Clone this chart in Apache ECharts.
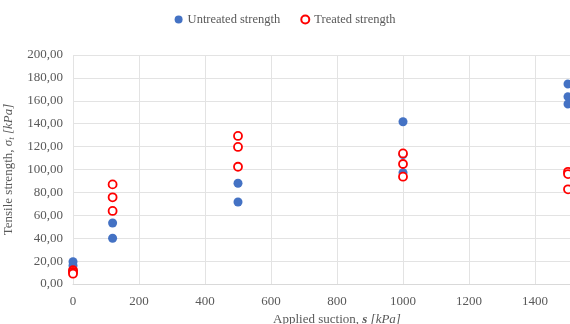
<!DOCTYPE html>
<html><head><meta charset="utf-8">
<script src="https://cdn.jsdelivr.net/npm/echarts@6/dist/echarts.min.js"></script>
<style>html,body{margin:0;padding:0;background:#fff}#c{width:570px;height:324px}</style>
</head><body><div id="c"></div>
<script>
const untreatedX = [0, 0, 0, 120, 120, 500, 500, 1000, 1000, 1000, 1500, 1500, 1500];
const untreatedY = [19.5, 16, 12, 53.3, 40, 88, 71.6, 141.7, 113, 97.2, 174.7, 163.6, 157.2];
const treatedX = [0, 0, 0, 120, 120, 120, 500, 500, 500, 1000, 1000, 1000, 1500, 1500, 1500];
const treatedY = [12, 10.5, 9, 87, 75.7, 63.8, 129.3, 119.7, 102.4, 114, 104.8, 93.7, 98, 96, 82.7];
const seriesNames = ['Untreated strength', 'Treated strength'];

const font = 'Liberation Serif';
const gray = '#595959';
const pair = (xs, ys) => xs.map((x, i) => [x, ys[i]]);

const chart = echarts.init(document.getElementById('c'));
chart.setOption({
  animation: false,
  textStyle: { fontFamily: font },
  legend: {
    top: 8, left: 'center', itemGap: 20, itemWidth: 8, itemHeight: 8,
    textStyle: { color: gray, fontFamily: font, fontSize: 12.5 },
    data: [{ name: seriesNames[0], icon: 'circle' }, { name: seriesNames[1], icon: 'circle' }]
  },
  grid: { left: 73, right: -31, top: 55, bottom: 40, containLabel: false, outerBoundsMode: 'none' },
  xAxis: {
    type: 'value', min: 0, max: 1600, interval: 200,
    axisLine: { show: true, lineStyle: { color: '#d9d9d9' } },
    axisTick: { show: false },
    splitLine: { show: true, lineStyle: { color: '#e3e3e3' } },
    axisLabel: { color: gray, fontFamily: font, fontSize: 13, margin: 11,
      formatter: v => String(v) },
    name: '{n|Applied suction, }{b|s}{i| [kPa]}',
    nameLocation: 'middle', nameGap: 24,
    nameTextStyle: {
      rich: {
        n: { color: gray, fontFamily: font, fontSize: 13 },
        b: { color: gray, fontFamily: font, fontSize: 13, fontWeight: 'bold', fontStyle: 'italic' },
        i: { color: gray, fontFamily: font, fontSize: 13, fontStyle: 'italic' }
      }
    }
  },
  yAxis: {
    type: 'value', min: 0, max: 200, interval: 20,
    axisLine: { show: false },
    axisTick: { show: false },
    splitLine: { show: true, lineStyle: { color: '#e3e3e3' } },
    axisLabel: { color: gray, fontFamily: font, fontSize: 13, margin: 10,
      formatter: v => v.toFixed(2).replace('.', ',') },
    name: '{n|Tensile strength, }{i|σ}{s|t}{i| [kPa]}',
    nameLocation: 'middle', nameGap: 52, nameRotate: 90,
    nameTextStyle: {
      rich: {
        n: { color: gray, fontFamily: font, fontSize: 13 },
        i: { color: gray, fontFamily: font, fontSize: 13, fontStyle: 'italic' },
        s: { color: gray, fontFamily: font, fontSize: 9, fontStyle: 'italic', padding: [6, 0, 0, 0] }
      }
    }
  },
  series: [
    {
      name: seriesNames[0], type: 'scatter', symbol: 'circle', symbolSize: 9,
      itemStyle: { color: '#4472C4', opacity: 1 },
      data: pair(untreatedX, untreatedY), z: 2
    },
    {
      name: seriesNames[1], type: 'scatter', symbol: 'circle', symbolSize: 8,
      itemStyle: { color: '#ffffff', borderColor: '#ff0000', borderWidth: 1.8, opacity: 1 },
      data: pair(treatedX, treatedY), z: 3
    }
  ]
});
</script></body></html>
